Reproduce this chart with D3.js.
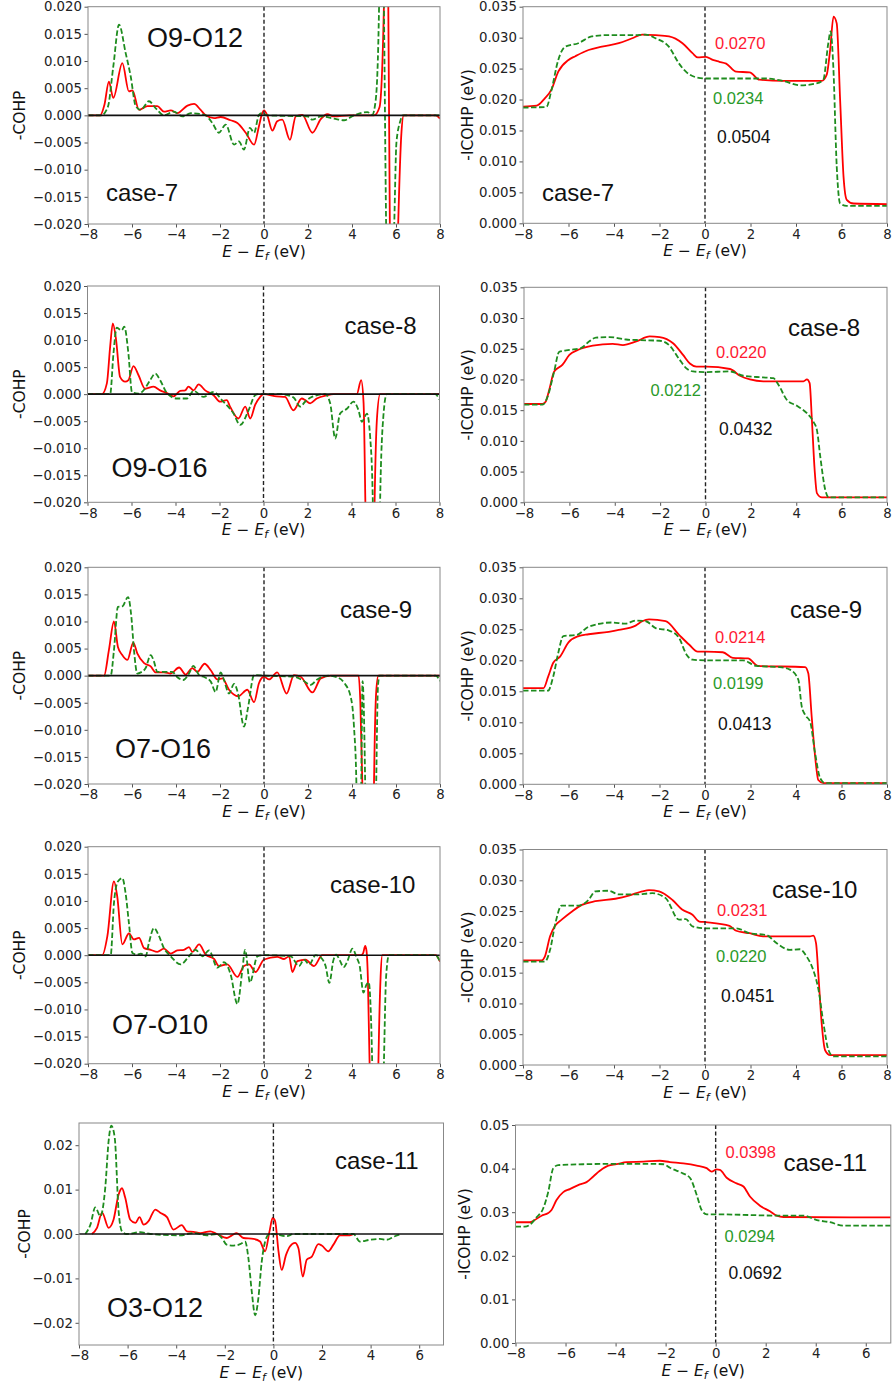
<!DOCTYPE html>
<html>
<head>
<meta charset="utf-8">
<script src="https://cdn.jsdelivr.net/npm/d3@7"></script>
<style>
  body { margin: 0; background: #fff; }
  svg { display: block; }
</style>
</head>
<body>
<script>
// values: [E - Ef (eV), value]
const caseNames = ['case-7', 'case-8', 'case-9', 'case-10', 'case-11'];
const bondNames = ['O9-O12', 'O9-O16', 'O7-O16', 'O7-O10', 'O3-O12'];
const redIcohpAtEf = ['0.0270', '0.0220', '0.0214', '0.0231', '0.0398'];
const greenIcohpAtEf = ['0.0234', '0.0212', '0.0199', '0.0220', '0.0294'];
const totalIcohpAtEf = ['0.0504', '0.0432', '0.0413', '0.0451', '0.0692'];

const energyTicks = [-8, -6, -4, -2, 0, 2, 4, 6, 8];
const energyTicksShort = [-8, -6, -4, -2, 0, 2, 4, 6];
const cohpTicks = [-0.02, -0.015, -0.01, -0.005, 0, 0.005, 0.01, 0.015, 0.02];
const cohpTicksWide = [-0.02, -0.01, 0, 0.01, 0.02];
const icohpTicks = [0, 0.005, 0.01, 0.015, 0.02, 0.025, 0.03, 0.035];
const icohpTicksWide = [0, 0.01, 0.02, 0.03, 0.04, 0.05];

const case7CohpRed = [[-8,0],[-7.45,0],[-7.25,0.002],[-7.05,0.0062],[-6.85,0.0032],[-6.44,0.0096],[-6.14,0.0044],[-5.98,0.0046],[-5.68,0.001],[-5.3,0.0017],[-4.85,0.0017],[-4.55,0.0007],[-4.24,0.0009],[-3.94,0.0004],[-3.48,0.0018],[-3.18,0.0021],[-2.88,0.001],[-2.65,0],[-2.27,-0.0005],[-1.97,-0.0003],[-1.52,-0.0009],[-1.21,-0.0014],[-0.83,-0.0032],[-0.45,-0.0054],[-0.23,-0.002],[-0.08,0.0004],[0,0.0009],[0.15,0],[0.38,-0.0028],[0.6,-0.0011],[0.83,-0.0008],[1.18,-0.0045],[1.44,-0.0002],[1.74,0.0001],[2.2,-0.0032],[2.58,-0.0007],[2.88,0.0002],[3.18,-0.0002],[3.9,0],[5.0,0],[5.25,0.0015],[5.45,0.02],[5.55,0.05],[5.65,0.02],[5.72,-0.02],[5.9,-0.06],[6.1,-0.02],[6.25,-0.003],[6.35,0],[7.8,0],[8,-0.0006]];
const case7CohpGreen = [[-8,0],[-7.4,0],[-7.1,0.0015],[-6.85,0.009],[-6.59,0.0167],[-6.29,0.0115],[-6.06,0.0072],[-5.83,0.0017],[-5.6,0.001],[-5.23,0.0026],[-4.92,0.0013],[-4.55,0],[-4.1,0.0007],[-3.7,-0.0002],[-3.33,0.0004],[-2.7,0.0001],[-2.35,-0.0014],[-2.05,-0.0032],[-1.74,-0.0017],[-1.36,-0.0054],[-1.14,-0.0048],[-0.91,-0.0063],[-0.64,-0.0023],[-0.45,-0.0032],[-0.23,0.0001],[-0.08,0.0004],[0.15,0],[1.97,-0.0002],[2.2,-0.0008],[2.58,-0.0002],[3.18,-0.0006],[3.64,-0.0009],[4.09,0],[4.7,0.0006],[4.92,0.0001],[5.08,0.0029],[5.23,0.02],[5.33,0.05],[5.45,0.02],[5.55,-0.02],[5.7,-0.05],[5.92,-0.02],[6.02,-0.005],[6.2,-0.001],[6.3,0],[8,0]];
const case7IcohpRed = [[-8,0.01885],[-7.4,0.019],[-7.04,0.0202],[-6.75,0.0216],[-6.45,0.0245],[-6.0,0.0264],[-5.7,0.027],[-5.12,0.028],[-4.53,0.02855],[-3.79,0.0291],[-3.2,0.0299],[-2.76,0.0305],[-2.17,0.0304],[-1.58,0.0302],[-0.99,0.0291],[-0.55,0.0275],[-0.32,0.0268],[0.04,0.0269],[0.34,0.0264],[0.63,0.0261],[0.93,0.0258],[1.37,0.0245],[1.96,0.0244],[2.4,0.0232],[3.43,0.023],[5.13,0.023],[5.35,0.024],[5.5,0.028],[5.65,0.0334],[5.79,0.0323],[5.94,0.0199],[6.09,0.0075],[6.23,0.0038],[6.53,0.0032],[8,0.0031]];
const case7IcohpGreen = [[-8,0.0187],[-6.97,0.0188],[-6.75,0.0215],[-6.45,0.0264],[-6.16,0.0285],[-5.57,0.0291],[-4.98,0.0302],[-4.39,0.0304],[-3.06,0.0304],[-2.62,0.0305],[-2.17,0.0299],[-1.58,0.0285],[-1.14,0.0258],[-0.84,0.0245],[-0.4,0.0236],[0.04,0.0234],[2.7,0.0234],[3.43,0.023],[4.17,0.0223],[4.9,0.0226],[5.2,0.0232],[5.42,0.0291],[5.52,0.031],[5.64,0.0253],[5.79,0.0092],[5.94,0.0032],[6.23,0.0028],[8,0.0028]];

const case8CohpRed = [[-8,0],[-7.35,0],[-7.12,0.002],[-6.97,0.0088],[-6.85,0.0131],[-6.7,0.01],[-6.52,0.0032],[-6.29,0.0023],[-6.14,0.0026],[-5.91,0.0052],[-5.68,0.0035],[-5.38,0.001],[-5.0,0.0014],[-4.7,0.0007],[-4.39,0.0002],[-4.09,-0.0004],[-3.79,0.0006],[-3.56,0.0007],[-3.41,0.0014],[-3.18,0.0007],[-2.95,0.0018],[-2.65,0.0007],[-2.27,-0.0002],[-1.97,-0.0014],[-1.67,-0.0011],[-1.52,-0.0023],[-1.14,-0.0045],[-0.83,-0.0023],[-0.6,-0.0045],[-0.38,-0.002],[-0.15,-0.0005],[0,0],[0.6,-0.0004],[0.98,-0.0005],[1.36,-0.003],[1.74,-0.0008],[1.89,-0.0011],[2.12,-0.0017],[2.42,-0.0008],[2.88,-0.0002],[3.18,0],[4.24,0],[4.44,0.0026],[4.55,-0.0017],[4.63,-0.02],[4.75,-0.05],[4.95,-0.05],[5.05,-0.02],[5.15,-0.005],[5.3,0],[8,0]];
const case8CohpGreen = [[-8,0],[-6.97,0],[-6.82,0.0075],[-6.67,0.0123],[-6.55,0.012],[-6.44,0.0118],[-6.33,0.0125],[-6.14,0.0075],[-5.98,0.0004],[-5.68,0.0001],[-5.45,0.0007],[-5.15,0.0026],[-4.92,0.0038],[-4.7,0.0026],[-4.39,0.0002],[-3.94,-0.0008],[-3.48,-0.0008],[-3.18,0.0006],[-2.73,-0.0005],[-2.27,0.0004],[-1.89,-0.0011],[-1.36,-0.0036],[-1.06,-0.0057],[-0.68,-0.003],[-0.38,-0.0002],[-0.23,0],[0.76,0],[1.36,-0.0006],[1.67,-0.0023],[1.89,-0.0014],[2.2,-0.0005],[2.8,0],[3.03,-0.0017],[3.26,-0.0082],[3.48,-0.0036],[3.79,-0.0027],[4.09,-0.0014],[4.32,-0.003],[4.47,-0.0051],[4.7,-0.0036],[4.85,-0.008],[4.97,-0.02],[5.05,-0.05],[5.2,-0.05],[5.3,-0.02],[5.45,-0.004],[5.6,0],[7.8,0],[8,-0.001]];
const case8IcohpRed = [[-8,0.016],[-7.18,0.016],[-7.04,0.0164],[-6.89,0.0183],[-6.67,0.0213],[-6.3,0.0224],[-6.0,0.024],[-5.63,0.0248],[-4.97,0.0255],[-4.09,0.0258],[-3.64,0.0256],[-3.05,0.0262],[-2.46,0.027],[-2.02,0.0269],[-1.43,0.0259],[-0.99,0.024],[-0.69,0.0226],[-0.4,0.0221],[0.04,0.0221],[1.08,0.0217],[1.52,0.0206],[1.96,0.02],[2.55,0.0197],[4.32,0.0197],[4.47,0.02],[4.59,0.0194],[4.69,0.0134],[4.81,0.0053],[4.91,0.0015],[5.13,0.0008],[8,0.0008]];
const case8IcohpGreen = [[-8,0.0159],[-7.18,0.0159],[-6.96,0.0172],[-6.67,0.0213],[-6.45,0.0245],[-6.0,0.0248],[-5.49,0.0251],[-5.12,0.0262],[-4.83,0.0268],[-4.23,0.0269],[-3.5,0.0265],[-2.91,0.0264],[-2.02,0.0263],[-1.58,0.0255],[-1.14,0.0232],[-0.84,0.0218],[-0.55,0.0213],[0,0.0212],[1.08,0.0213],[1.67,0.0206],[2.26,0.0204],[2.99,0.0202],[3.22,0.0191],[3.58,0.0167],[4.03,0.0157],[4.47,0.0145],[4.76,0.0131],[4.91,0.0118],[5.06,0.0074],[5.28,0.002],[5.43,0.0008],[8,0.0008]];

const case9CohpRed = [[-8,0],[-7.27,0],[-7.05,0.0047],[-6.82,0.01],[-6.64,0.0053],[-6.44,0.0038],[-6.21,0.0029],[-5.94,0.0061],[-5.76,0.0041],[-5.45,0.0023],[-5.15,0.0017],[-4.92,0.0006],[-4.55,0.0006],[-4.24,0.0004],[-3.86,0.0015],[-3.56,0.0002],[-3.26,0.0014],[-3.03,0.0007],[-2.7,0.0022],[-2.42,0.001],[-2.12,-0.0007],[-1.89,-0.0005],[-1.59,-0.0026],[-1.17,-0.0038],[-0.76,-0.0026],[-0.45,-0.0049],[-0.23,-0.0014],[0,-0.0002],[0.23,-0.0007],[0.6,0.0006],[1.03,-0.0033],[1.36,0.0001],[1.67,-0.0002],[2.2,-0.0031],[2.58,-0.0005],[3.03,0],[4.3,0],[4.38,-0.005],[4.47,-0.02],[4.6,-0.06],[4.9,-0.06],[5.0,-0.02],[5.1,-0.003],[5.2,0],[8,0]];
const case9CohpGreen = [[-8,0],[-6.97,0],[-6.82,0.0047],[-6.64,0.0127],[-6.44,0.0128],[-6.18,0.0145],[-6.03,0.0109],[-5.91,0.0047],[-5.76,0.0004],[-5.6,0.0006],[-5.38,0.0014],[-5.15,0.0038],[-5.0,0.0026],[-4.85,0.0007],[-4.17,0.0007],[-3.94,-0.0003],[-3.67,-0.0008],[-3.41,0.0004],[-3.21,0.0018],[-2.95,0.0001],[-2.7,-0.0003],[-2.42,-0.0011],[-2.2,-0.003],[-1.97,0.0006],[-1.82,-0.0008],[-1.59,-0.0033],[-1.36,-0.0015],[-1.18,-0.0033],[-0.91,-0.0094],[-0.73,-0.006],[-0.45,0.0001],[0,0],[1.36,-0.0002],[1.74,-0.0008],[2.12,-0.0017],[2.42,-0.0007],[2.95,0],[3.33,-0.0003],[3.64,-0.0013],[3.94,-0.0039],[4.09,-0.0094],[4.2,-0.02],[4.3,-0.05],[4.42,-0.02],[4.48,-0.001],[4.53,-0.005],[4.6,-0.02],[4.7,-0.05],[5.0,-0.05],[5.1,-0.02],[5.18,-0.002],[5.25,0],[7.8,0],[8,-0.001]];
const case9IcohpRed = [[-8,0.0155],[-7.1,0.0155],[-6.89,0.0174],[-6.67,0.0196],[-6.37,0.0206],[-6.0,0.0229],[-5.56,0.0239],[-5.12,0.0242],[-4.23,0.0246],[-3.79,0.0249],[-3.05,0.0256],[-2.76,0.0263],[-2.46,0.0266],[-1.73,0.0263],[-1.14,0.0241],[-0.69,0.0225],[-0.32,0.0214],[0.04,0.0214],[0.78,0.0213],[1.22,0.0204],[1.89,0.0203],[2.33,0.0191],[4.4,0.0189],[4.54,0.0179],[4.69,0.0109],[4.84,0.0045],[4.98,0.0007],[5.2,0.0002],[8,0.0002]];
const case9IcohpGreen = [[-8,0.0151],[-6.9,0.0151],[-6.67,0.0174],[-6.45,0.0212],[-6.23,0.0239],[-5.63,0.0241],[-5.12,0.0254],[-4.09,0.0261],[-3.5,0.0259],[-3.05,0.0264],[-2.6,0.0263],[-2.17,0.0252],[-1.58,0.0248],[-1.14,0.0236],[-0.81,0.0209],[-0.55,0.0201],[0,0.02],[1.67,0.02],[2.26,0.0191],[3.29,0.0189],[3.73,0.0185],[4.1,0.0169],[4.25,0.0126],[4.4,0.0112],[4.62,0.0101],[4.84,0.005],[5.06,0.001],[5.28,0.0002],[8,0.0002]];

const case10CohpRed = [[-8,0],[-7.35,0],[-7.12,0.0035],[-6.82,0.0136],[-6.67,0.0108],[-6.44,0.002],[-6.14,0.004],[-5.91,0.0029],[-5.68,0.0032],[-5.45,0.0013],[-5.15,0.001],[-4.85,0.0006],[-4.55,0.0012],[-4.24,0.0003],[-3.94,0.0009],[-3.64,0.001],[-3.41,0.0015],[-3.26,0.0006],[-2.95,0.002],[-2.65,0.0001],[-2.27,-0.0007],[-2.05,-0.002],[-1.67,-0.0017],[-1.21,-0.004],[-0.91,-0.002],[-0.68,-0.0017],[-0.38,-0.0031],[0,-0.0008],[0.6,-0.0003],[0.91,-0.0007],[1.14,-0.0002],[1.29,-0.0031],[1.52,-0.0011],[1.89,-0.0008],[2.27,-0.002],[2.65,0],[4.4,0],[4.5,0.0003],[4.6,0.0017],[4.66,0.0008],[4.72,-0.004],[4.8,-0.02],[4.9,-0.05],[5.1,-0.05],[5.2,-0.02],[5.3,-0.004],[5.38,0],[7.8,0],[8,-0.0012]];
const case10CohpGreen = [[-8,0],[-6.97,0],[-6.82,0.0096],[-6.64,0.0136],[-6.44,0.0142],[-6.29,0.0114],[-6.14,0.0059],[-5.98,0.0004],[-5.76,0.0001],[-5.6,0.0003],[-5.38,-0.0002],[-5.23,0.0023],[-5.0,0.005],[-4.77,0.0035],[-4.55,0.0013],[-4.24,-0.0002],[-3.79,-0.0017],[-3.41,-0.0002],[-3.11,0.001],[-2.8,-0.0002],[-2.5,0.0009],[-2.12,-0.0023],[-1.82,-0.0013],[-1.52,-0.0035],[-1.21,-0.009],[-0.98,-0.0026],[-0.86,0.001],[-0.64,-0.005],[-0.3,-0.0002],[0,0],[1.21,-0.0002],[1.59,-0.002],[1.82,-0.0008],[2.05,-0.0017],[2.35,0],[2.6,-0.0005],[2.8,-0.002],[2.97,-0.0051],[3.15,-0.001],[3.28,0.0001],[3.45,-0.001],[3.62,-0.0022],[3.8,-0.001],[4.02,0.0012],[4.2,-0.0003],[4.35,-0.002],[4.52,-0.0069],[4.65,-0.0055],[4.76,-0.005],[4.85,-0.01],[4.92,-0.02],[5.05,-0.05],[5.3,-0.05],[5.45,-0.02],[5.55,-0.004],[5.68,0],[7.8,0],[8,-0.0012]];
const case10IcohpRed = [[-8,0.017],[-7.18,0.017],[-7.04,0.0176],[-6.81,0.0209],[-6.59,0.0226],[-6.3,0.0236],[-5.86,0.0249],[-5.41,0.026],[-4.82,0.0266],[-3.94,0.027],[-3.35,0.0275],[-2.76,0.0282],[-2.46,0.0284],[-2.02,0.0282],[-1.43,0.0268],[-0.99,0.0252],[-0.55,0.0244],[-0.25,0.0233],[0.04,0.0232],[1.08,0.0226],[1.37,0.0218],[1.96,0.0214],[2.55,0.0209],[4.62,0.0209],[4.76,0.021],[4.88,0.0198],[4.99,0.0143],[5.13,0.0067],[5.28,0.0024],[5.5,0.0016],[8,0.0016]];
const case10IcohpGreen = [[-8,0.0168],[-7.04,0.0168],[-6.81,0.0187],[-6.59,0.0228],[-6.3,0.0259],[-5.56,0.0259],[-5.12,0.0268],[-4.82,0.0282],[-4.23,0.0283],[-3.79,0.0277],[-3.05,0.0277],[-2.32,0.0279],[-1.73,0.0271],[-1.14,0.0236],[-0.84,0.0237],[-0.55,0.0225],[0,0.0222],[1.37,0.0222],[1.96,0.0214],[2.7,0.0211],[3.14,0.0198],[3.73,0.0187],[4.17,0.0188],[4.47,0.0176],[4.76,0.0154],[4.99,0.0122],[5.21,0.0067],[5.43,0.0024],[5.65,0.0014],[8,0.0014]];

const case11CohpRed = [[-7.47,0],[-7.26,0.0014],[-7.05,0.0048],[-6.78,0.0014],[-6.58,0.0032],[-6.37,0.0089],[-6.23,0.0103],[-6.1,0.0082],[-5.89,0.0032],[-5.68,0.0025],[-5.51,0.0038],[-5.34,0.0021],[-5.14,0.0029],[-4.86,0.0055],[-4.66,0.0048],[-4.38,0.0038],[-4.11,0.001],[-3.77,0.002],[-3.56,0.0006],[-3.29,0.0005],[-3.01,0.0002],[-2.6,0.0006],[-2.33,0],[-1.92,-0.0009],[-1.71,-0.0003],[-1.51,0.0002],[-1.23,-0.0009],[-0.82,-0.0011],[-0.55,-0.0017],[-0.34,-0.0039],[-0.16,0.0006],[-0.03,0.0036],[0.07,0.0029],[0.21,-0.0039],[0.34,-0.0081],[0.52,-0.0047],[0.68,-0.0028],[0.89,-0.002],[1.03,-0.0032],[1.21,-0.0096],[1.37,-0.0058],[1.58,-0.0051],[1.85,-0.0023],[1.99,-0.0026],[2.26,-0.0039],[2.47,-0.0024],[2.74,-0.0003],[3.15,-0.0003],[3.3,0]];
const case11CohpGreen = [[-7.74,0],[-7.53,0.0021],[-7.33,0.006],[-7.12,0.004],[-6.92,0.0104],[-6.78,0.021],[-6.67,0.0244],[-6.53,0.0217],[-6.37,0.0051],[-6.23,0.0006],[-6.03,0],[-5.48,0.0004],[-5.07,0],[-3.84,-0.0003],[-3.29,0.0002],[-2.74,-0.0003],[-2.33,0],[-2.12,-0.0009],[-1.92,-0.0024],[-1.64,-0.0026],[-1.37,-0.0023],[-1.16,-0.0017],[-1.03,-0.0054],[-0.89,-0.013],[-0.75,-0.0183],[-0.62,-0.0145],[-0.48,-0.0062],[-0.34,-0.0017],[-0.21,-0.0002],[0,0],[0.55,-0.0005],[0.82,0],[3.29,0],[3.56,-0.0017],[3.97,-0.0013],[4.38,-0.0011],[4.66,-0.0013],[5.0,-0.0005],[5.27,0]];
const case11IcohpRed = [[-8,0.0277],[-7.43,0.0277],[-7.23,0.0282],[-6.96,0.0292],[-6.69,0.0298],[-6.56,0.0305],[-6.36,0.0328],[-6.09,0.0346],[-5.83,0.0353],[-5.43,0.0364],[-5.16,0.0369],[-4.89,0.0382],[-4.63,0.0395],[-4.29,0.0407],[-3.96,0.041],[-3.56,0.0415],[-2.89,0.0416],[-2.23,0.0418],[-1.83,0.0415],[-1.29,0.0412],[-0.76,0.0407],[-0.36,0.0401],[-0.16,0.0393],[0.04,0.0398],[0.17,0.0397],[0.44,0.0379],[0.84,0.0366],[1.11,0.0359],[1.37,0.0336],[1.77,0.0315],[2.17,0.0302],[2.44,0.0292],[2.71,0.0289],[7,0.0288]];
const case11IcohpGreen = [[-8,0.0267],[-7.63,0.0267],[-7.43,0.0271],[-7.16,0.0288],[-6.89,0.0309],[-6.69,0.0347],[-6.49,0.0401],[-6.29,0.0408],[-5.29,0.041],[-3.96,0.0411],[-2.63,0.0411],[-2.09,0.041],[-1.83,0.0402],[-1.43,0.0392],[-1.03,0.0379],[-0.76,0.034],[-0.56,0.0305],[-0.36,0.0295],[0,0.0295],[2.71,0.0292],[3.51,0.0292],[4.04,0.0282],[4.57,0.0277],[5.11,0.0269],[7,0.0269]];

const cohpRed = [case7CohpRed, case8CohpRed, case9CohpRed, case10CohpRed, case11CohpRed];
const cohpGreen = [case7CohpGreen, case8CohpGreen, case9CohpGreen, case10CohpGreen, case11CohpGreen];
const icohpRed = [case7IcohpRed, case8IcohpRed, case9IcohpRed, case10IcohpRed, case11IcohpRed];
const icohpGreen = [case7IcohpGreen, case8IcohpGreen, case9IcohpGreen, case10IcohpGreen, case11IcohpGreen];

// layout of the plot boxes (pixels), one per row
const leftBoxes = [
  { x0: 88, x1: 440, y0: 6.7, y1: 224 },
  { x0: 87.5, x1: 439.5, y0: 286, y1: 502.3 },
  { x0: 88, x1: 440, y0: 567.3, y1: 784 },
  { x0: 88, x1: 440, y0: 846.7, y1: 1063.7 },
  { x0: 79, x1: 443.5, y0: 1123, y1: 1345 }
];
const rightBoxes = [
  { x0: 523, x1: 887, y0: 6.7, y1: 223.3 },
  { x0: 524, x1: 887, y0: 287.3, y1: 502.3 },
  { x0: 523, x1: 887, y0: 567.3, y1: 784.3 },
  { x0: 523, x1: 887, y0: 849.5, y1: 1065 },
  { x0: 515.5, x1: 890.8, y0: 1125, y1: 1343 }
];
// label offsets inside each plot box
const caseLabelLeft = [[18, 186], [257, 39], [252, 42], [242, 38], [256, 37]];
const bondLabelLeft = [[59, 31], [24, 181], [27, 181], [24, 178], [28, 184]];
const caseLabelRight = [[19, 186], [264, 40], [267, 42], [249, 40], [268, 37]];
const redLabelPos = [[192, 36], [192, 65], [192, 70], [194, 61], [210, 27]];
const greenLabelPos = [[190, 91], [177, 103, 'end'], [190, 116], [193, 107], [209, 111]];
const totalLabelPos = [[194, 130], [195, 141], [195, 156], [198, 146], [213, 148]];
const yLabelX = { left: [20, 20, 20, 20, 25], right: [468, 468, 468, 468, 465] };

const RED = '#ff0000';
const GREEN = '#1e8c1e';
const TICK_FONT = '"DejaVu Sans", sans-serif';
const TEXT_FONT = '"Liberation Sans", Arial, sans-serif';

const svg = d3.select('body').append('svg')
  .attr('width', 893)
  .attr('height', 1389);

function drawPanel(i, side) {
  const isLeft = side === 'left';
  const last = i === 4;
  const box = isLeft ? leftBoxes[i] : rightBoxes[i];
  const w = box.x1 - box.x0;
  const h = box.y1 - box.y0;
  const xDomain = last ? [-8, 7] : [-8, 8];
  const yDomain = isLeft ? (last ? [-0.025, 0.025] : [-0.02, 0.02]) : (last ? [0, 0.05] : [0, 0.035]);
  const yTicks = isLeft ? (last ? cohpTicksWide : cohpTicks) : (last ? icohpTicksWide : icohpTicks);
  const yFmt = d3.format(last ? '.2f' : '.3f');

  const x = d3.scaleLinear().domain(xDomain).range([0, w]);
  const y = d3.scaleLinear().domain(yDomain).range([h, 0]);

  const g = svg.append('g').attr('transform', `translate(${box.x0},${box.y0})`);
  const clipId = `clip-${side}-${i}`;
  g.append('clipPath').attr('id', clipId)
    .append('rect').attr('width', w).attr('height', h);

  const xAxis = d3.axisBottom(x)
    .tickValues(last ? energyTicksShort : energyTicks)
    .tickFormat(d3.format('d'))
    .tickSize(3.5)
    .tickPadding(2.5);
  const yAxis = d3.axisLeft(y)
    .tickValues(yTicks)
    .tickFormat(yFmt)
    .tickSize(3.5)
    .tickPadding(2.5);

  [g.append('g').attr('transform', `translate(0,${h})`).call(xAxis),
    g.append('g').call(yAxis)].forEach((ax) => {
    ax.select('.domain').remove();
    ax.selectAll('.tick line').attr('stroke', '#555');
    ax.selectAll('.tick text')
      .attr('fill', '#222')
      .style('font-family', TICK_FONT)
      .style('font-size', '13.3px');
  });

  const line = d3.line()
    .x(d => x(d[0]))
    .y(d => y(d[1]))
    .curve(d3.curveMonotoneX);

  const plot = g.append('g').attr('clip-path', `url(#${clipId})`);
  const redData = isLeft ? cohpRed[i] : icohpRed[i];
  const greenData = isLeft ? cohpGreen[i] : icohpGreen[i];

  plot.append('path').datum(redData)
    .attr('d', line)
    .attr('fill', 'none')
    .attr('stroke', RED)
    .attr('stroke-width', 1.8);
  plot.append('path').datum(greenData)
    .attr('d', line)
    .attr('fill', 'none')
    .attr('stroke', GREEN)
    .attr('stroke-width', 1.8)
    .attr('stroke-dasharray', '5.5,2.5');

  if (isLeft) {
    plot.append('line')
      .attr('x1', 0).attr('x2', w)
      .attr('y1', y(0)).attr('y2', y(0))
      .attr('stroke', '#111')
      .attr('stroke-width', 1.6);
  }
  plot.append('line')
    .attr('x1', x(0)).attr('x2', x(0))
    .attr('y1', 0).attr('y2', h)
    .attr('stroke', '#222')
    .attr('stroke-width', 1.4)
    .attr('stroke-dasharray', '4,2.5');

  g.append('rect')
    .attr('width', w).attr('height', h)
    .attr('fill', 'none')
    .attr('stroke', '#888')
    .attr('stroke-width', 1);

  // axis titles
  const xl = g.append('text')
    .attr('x', w / 2).attr('y', h + 33)
    .attr('text-anchor', 'middle')
    .style('font-family', TICK_FONT)
    .style('font-size', '15.5px')
    .attr('fill', '#111');
  xl.append('tspan').attr('font-style', 'italic').text('E');
  xl.append('tspan').text(' \u2212 ');
  xl.append('tspan').attr('font-style', 'italic').text('E');
  xl.append('tspan').attr('font-style', 'italic').attr('font-size', '11px').attr('dy', 3).text('f');
  xl.append('tspan').attr('dy', -3).text(' (eV)');

  const ylx = (isLeft ? yLabelX.left[i] : yLabelX.right[i]) - box.x0;
  g.append('text')
    .attr('transform', `translate(${ylx},${h / 2}) rotate(-90)`)
    .attr('text-anchor', 'middle')
    .attr('dy', '0.35em')
    .style('font-family', TICK_FONT)
    .style('font-size', '15.5px')
    .attr('fill', '#111')
    .text(isLeft ? '-COHP' : '-ICOHP (eV)');

  // in-panel labels
  const label = (pos, txt, size, color) => {
    g.append('text')
      .attr('x', pos[0]).attr('y', pos[1])
      .attr('dy', '0.36em')
      .attr('text-anchor', pos[2] || 'start')
      .style('font-family', TEXT_FONT)
      .style('font-size', size)
      .attr('fill', color)
      .text(txt);
  };
  if (isLeft) {
    label(caseLabelLeft[i], caseNames[i], '24px', '#111');
    label(bondLabelLeft[i], bondNames[i], '27px', '#111');
  } else {
    label(caseLabelRight[i], caseNames[i], '24px', '#111');
    label(redLabelPos[i], redIcohpAtEf[i], '16.5px', '#ff1a33');
    label(greenLabelPos[i], greenIcohpAtEf[i], '16.5px', '#2a9a2a');
    label(totalLabelPos[i], totalIcohpAtEf[i], '17.5px', '#111');
  }
}

for (let i = 0; i < 5; i += 1) {
  drawPanel(i, 'left');
  drawPanel(i, 'right');
}
</script>
</body>
</html>
